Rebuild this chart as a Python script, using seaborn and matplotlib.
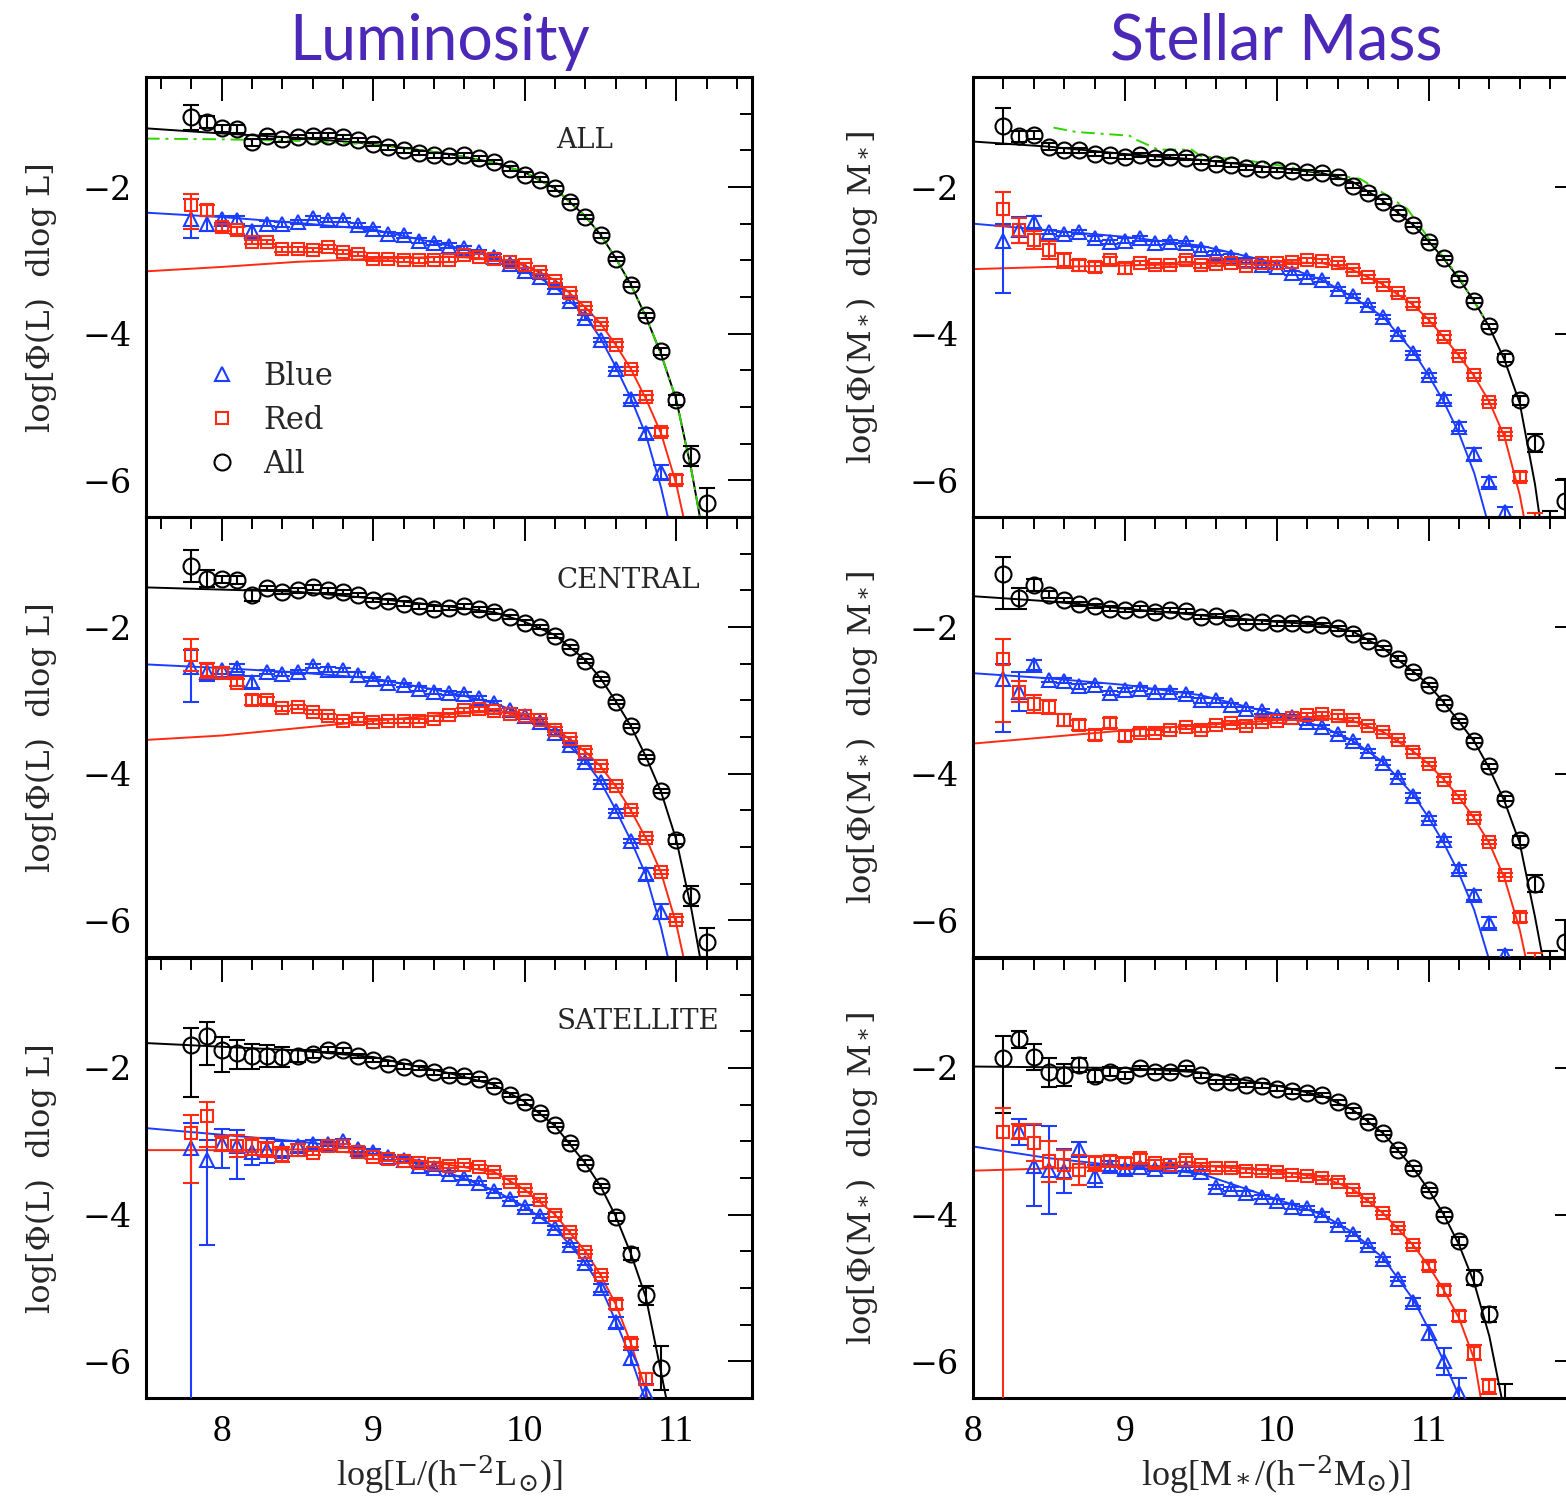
import numpy as np
import matplotlib
matplotlib.use("Agg")
import matplotlib.pyplot as plt
from matplotlib.lines import Line2D
from matplotlib.ticker import MultipleLocator
import seaborn as sns

# ---------------- data ----------------
NAN = np.nan
LX = [7.8, 7.9, 8.0, 8.1, 8.2, 8.3, 8.4, 8.5, 8.6, 8.7, 8.8, 8.9, 9.0, 9.1, 9.2, 9.3, 9.4, 9.5,
      9.6, 9.7, 9.8, 9.9, 10.0, 10.1, 10.2, 10.3, 10.4, 10.5, 10.6, 10.7, 10.8, 10.9, 11.0, 11.1, 11.2]
MX = [8.2, 8.3, 8.4, 8.5, 8.6, 8.7, 8.8, 8.9, 9.0, 9.1, 9.2, 9.3, 9.4, 9.5, 9.6, 9.7, 9.8, 9.9,
      10.0, 10.1, 10.2, 10.3, 10.4, 10.5, 10.6, 10.7, 10.8, 10.9, 11.0, 11.1, 11.2, 11.3, 11.4,
      11.5, 11.6, 11.7, 11.8, 11.9]

# Luminosity, ALL
L_all_black = [-1.05, -1.11, -1.20, -1.21, -1.39, -1.31, -1.35, -1.32, -1.30, -1.30, -1.32, -1.36,
               -1.41, -1.46, -1.50, -1.54, -1.57, -1.58, -1.57, -1.61, -1.66, -1.75, -1.83, -1.90,
               -2.02, -2.20, -2.41, -2.66, -2.98, -3.33, -3.75, -4.24, -4.90, -5.67, -6.31]
L_all_blue = [-2.43, -2.50, -2.44, -2.45, -2.60, -2.50, -2.51, -2.48, -2.42, -2.45, -2.45, -2.52,
              -2.57, -2.64, -2.66, -2.73, -2.76, -2.80, -2.83, -2.89, -2.95, -3.05, -3.14, -3.23,
              -3.36, -3.55, -3.78, -4.09, -4.48, -4.89, -5.36, -5.89, NAN, NAN, NAN]
L_all_red = [-2.25, -2.32, -2.55, -2.59, -2.75, -2.75, -2.85, -2.85, -2.86, -2.82, -2.89, -2.91,
             -2.98, -2.98, -2.99, -3.00, -2.99, -2.99, -2.93, -2.95, -2.98, -3.02, -3.07, -3.16,
             -3.28, -3.45, -3.65, -3.87, -4.15, -4.48, -4.87, -5.34, -5.99, NAN, NAN]
# Luminosity, CENTRAL
L_cen_black = [-1.17, -1.34, -1.35, -1.36, -1.57, -1.47, -1.52, -1.50, -1.46, -1.50, -1.52, -1.56,
               -1.63, -1.65, -1.68, -1.72, -1.75, -1.74, -1.72, -1.76, -1.79, -1.86, -1.94, -2.00,
               -2.12, -2.27, -2.46, -2.71, -3.02, -3.35, -3.77, -4.24, -4.90, -5.67, -6.30]
L_cen_blue = [-2.54, -2.61, -2.59, -2.56, -2.75, -2.61, -2.64, -2.61, -2.53, -2.58, -2.59, -2.65,
              -2.71, -2.76, -2.79, -2.84, -2.88, -2.90, -2.91, -2.97, -3.04, -3.13, -3.22, -3.29,
              -3.44, -3.61, -3.84, -4.11, -4.51, -4.92, -5.37, -5.88, NAN, NAN, NAN]
L_cen_red = [-2.38, -2.59, -2.63, -2.76, -3.00, -3.00, -3.11, -3.09, -3.16, -3.22, -3.28, -3.26,
             -3.29, -3.28, -3.28, -3.28, -3.25, -3.20, -3.13, -3.12, -3.15, -3.19, -3.21, -3.27,
             -3.40, -3.53, -3.70, -3.90, -4.17, -4.50, -4.88, -5.34, -5.99, NAN, NAN]
# Luminosity, SATELLITE
L_sat_black = [-1.69, -1.57, -1.75, -1.79, -1.84, -1.84, -1.85, -1.84, -1.81, -1.75, -1.76, -1.84,
               -1.89, -1.94, -1.98, -2.00, -2.06, -2.10, -2.11, -2.15, -2.24, -2.37, -2.47, -2.61,
               -2.78, -3.02, -3.29, -3.61, -4.03, -4.54, -5.10, -6.09, NAN, NAN, NAN]
L_sat_blue = [-3.09, -3.25, -3.03, -3.07, -3.14, -3.12, -3.11, -3.07, -3.04, -3.04, -3.00, -3.11,
              -3.14, -3.22, -3.25, -3.33, -3.37, -3.44, -3.50, -3.57, -3.68, -3.79, -3.90, -4.02,
              -4.18, -4.41, -4.66, -5.00, -5.47, -5.95, -6.43, NAN, NAN, NAN, NAN]
L_sat_red = [-2.89, -2.66, -3.03, -3.07, -3.07, -3.11, -3.18, -3.12, -3.16, -3.07, -3.06, -3.14,
             -3.21, -3.24, -3.27, -3.30, -3.31, -3.33, -3.32, -3.35, -3.42, -3.55, -3.66, -3.80,
             -4.00, -4.24, -4.51, -4.82, -5.22, -5.75, -6.24, NAN, NAN, NAN, NAN]

# Stellar mass, ALL
M_all_black = [-1.17, -1.31, -1.29, -1.45, -1.50, -1.50, -1.55, -1.57, -1.59, -1.56, -1.60, -1.59,
               -1.60, -1.66, -1.68, -1.70, -1.74, -1.76, -1.77, -1.78, -1.80, -1.81, -1.86, -1.98,
               -2.08, -2.20, -2.35, -2.52, -2.75, -2.97, -3.25, -3.55, -3.90, -4.33, -4.91, -5.49,
               -6.62, -6.28]
M_all_blue = [-2.73, -2.59, -2.48, -2.61, -2.64, -2.61, -2.70, -2.75, -2.73, -2.70, -2.76, -2.75,
              -2.77, -2.85, -2.90, -2.95, -3.00, -3.07, -3.09, -3.17, -3.23, -3.27, -3.39, -3.49,
              -3.61, -3.77, -4.00, -4.26, -4.57, -4.89, -5.27, -5.64, -6.02, -6.43, NAN, NAN, NAN, NAN]
M_all_red = [-2.30, -2.59, -2.72, -2.86, -3.00, -3.07, -3.09, -3.00, -3.11, -3.04, -3.07, -3.06,
             -2.99, -3.07, -3.05, -3.04, -3.08, -3.04, -3.04, -3.02, -3.00, -3.01, -3.04, -3.13,
             -3.23, -3.33, -3.45, -3.60, -3.82, -4.05, -4.30, -4.57, -4.93, -5.37, -5.95, -6.60,
             NAN, NAN]
# Stellar mass, CENTRAL
M_cen_black = [-1.28, -1.61, -1.43, -1.56, -1.63, -1.69, -1.71, -1.75, -1.77, -1.75, -1.79, -1.77,
               -1.78, -1.86, -1.85, -1.88, -1.93, -1.93, -1.95, -1.95, -1.96, -1.97, -2.02, -2.09,
               -2.19, -2.29, -2.43, -2.61, -2.79, -3.03, -3.28, -3.55, -3.90, -4.34, -4.91, -5.50,
               -6.62, -6.29]
M_cen_blue = [-2.71, -2.88, -2.52, -2.72, -2.73, -2.81, -2.79, -2.90, -2.86, -2.84, -2.88, -2.88,
              -2.92, -3.00, -3.00, -3.06, -3.12, -3.15, -3.21, -3.23, -3.30, -3.36, -3.46, -3.56,
              -3.69, -3.85, -4.04, -4.30, -4.61, -4.90, -5.30, -5.65, -6.03, -6.47, NAN, NAN, NAN, NAN]
M_cen_red = [-2.43, -2.88, -3.05, -3.09, -3.27, -3.34, -3.47, -3.31, -3.49, -3.44, -3.44, -3.40,
             -3.36, -3.40, -3.34, -3.31, -3.35, -3.29, -3.28, -3.24, -3.20, -3.19, -3.22, -3.27,
             -3.35, -3.43, -3.54, -3.70, -3.87, -4.08, -4.32, -4.60, -4.93, -5.38, -5.96, -6.60,
             NAN, NAN]
# Stellar mass, SATELLITE
M_sat_black = [-1.87, -1.61, -1.85, -2.06, -2.10, -1.96, -2.11, -2.05, -2.10, -2.00, -2.05, -2.05,
               -2.00, -2.10, -2.19, -2.19, -2.23, -2.24, -2.28, -2.32, -2.34, -2.37, -2.47, -2.58,
               -2.73, -2.89, -3.12, -3.37, -3.66, -4.00, -4.36, -4.86, -5.36, -6.65, NAN, NAN, NAN, NAN]
M_sat_blue = [NAN, -2.87, -3.33, -3.39, -3.41, -3.11, -3.47, -3.34, -3.38, -3.35, -3.38, -3.34,
              -3.38, -3.42, -3.62, -3.65, -3.71, -3.76, -3.82, -3.89, -3.91, -4.00, -4.14, -4.26,
              -4.42, -4.61, -4.88, -5.19, -5.61, -6.00, -6.43, NAN, NAN, NAN, NAN, NAN, NAN, NAN]
M_sat_red = [-2.87, -2.87, -3.02, -3.27, -3.32, -3.39, -3.30, -3.27, -3.30, -3.23, -3.30, -3.32,
             -3.25, -3.32, -3.37, -3.37, -3.40, -3.41, -3.42, -3.46, -3.47, -3.50, -3.55, -3.67,
             -3.80, -3.98, -4.18, -4.42, -4.70, -5.03, -5.38, -5.88, -6.34, NAN, NAN, NAN, NAN, NAN]

# error bars: default and per-point overrides (value or (lower, upper))
ERR_DEFAULT = 0.03
L_all_black_err = {7.8: 0.17, 7.9: 0.08, 8.0: 0.05, 8.1: 0.05, 8.2: 0.05, 10.9: 0.05, 11.0: 0.07, 11.1: 0.14, 11.2: 0.2}
L_all_blue_err = {7.8: 0.27, 7.9: 0.1, 8.0: 0.05, 8.1: 0.05, 8.2: 0.07, 10.7: 0.05, 10.8: 0.08, 10.9: 0.1}
L_all_red_err = {7.8: (0.32, 0.15), 7.9: 0.08, 8.0: 0.05, 8.1: 0.05, 10.9: 0.05, 11.0: 0.06}
L_cen_black_err = {7.8: 0.22, 7.9: 0.12, 8.0: 0.05, 8.1: 0.05, 8.2: 0.07, 11.0: 0.06, 11.1: 0.14, 11.2: 0.2}
L_cen_blue_err = {7.8: (0.48, 0.22), 7.9: 0.12, 8.0: 0.05, 8.1: 0.05, 8.2: 0.08, 10.8: 0.08, 10.9: 0.1}
L_cen_red_err = {7.8: 0.22, 7.9: 0.1, 8.0: 0.07, 8.1: 0.05, 8.2: 0.07, 8.3: 0.05}
L_sat_black_err = {7.8: (0.70, 0.24), 7.9: (0.39, 0.2), 8.0: (0.3, 0.17), 8.1: (0.22, 0.17), 8.2: 0.17,
                   8.3: 0.15, 8.4: 0.13, 8.5: 0.08, 8.6: 0.05, 10.6: 0.05, 10.7: 0.08, 10.8: 0.13, 10.9: 0.3}
L_sat_blue_err = {7.8: (4.0, 0.34), 7.9: (1.16, 0.27), 8.0: (0.33, 0.2), 8.1: (0.45, 0.22), 8.2: 0.18,
                  8.3: 0.17, 8.4: 0.12, 8.5: 0.08, 8.6: 0.06, 10.5: 0.05, 10.6: 0.08, 10.7: 0.1, 10.8: 0.12}
L_sat_red_err = {7.8: (0.68, 0.25), 7.9: (0.42, 0.2), 8.0: 0.1, 8.1: 0.15, 8.2: 0.12, 8.3: 0.1, 8.4: 0.1,
                 8.5: 0.08, 10.6: 0.06, 10.7: 0.06, 10.8: 0.08}
M_all_black_err = {8.2: 0.25, 8.3: 0.08, 8.4: 0.06, 8.5: 0.05, 11.5: 0.05, 11.6: 0.06, 11.7: 0.12, 11.8: 0.2, 11.9: 0.3}
M_all_blue_err = {8.2: (0.72, 0.23), 8.3: 0.18, 8.4: 0.08, 11.1: 0.05, 11.2: 0.06, 11.3: 0.08, 11.4: 0.07, 11.5: 0.07}
M_all_red_err = {8.2: 0.23, 8.3: 0.17, 8.4: 0.12, 8.5: 0.12, 8.6: 0.1, 8.7: 0.07, 8.8: 0.07, 8.9: 0.05,
                 9.0: 0.07, 11.6: 0.06, 11.7: 0.15}
M_cen_black_err = {8.2: (0.47, 0.23), 8.3: 0.14, 8.4: 0.08, 8.5: 0.05, 11.6: 0.06, 11.7: 0.12, 11.8: 0.2, 11.9: 0.3}
M_cen_blue_err = {8.2: (0.72, 0.2), 8.3: 0.26, 8.4: 0.07, 11.2: 0.06, 11.3: 0.07, 11.4: 0.07, 11.5: 0.07}
M_cen_red_err = {8.2: (0.87, 0.26), 8.3: 0.14, 8.4: 0.12, 8.5: 0.1, 8.6: 0.08, 8.7: 0.07, 8.8: 0.07,
                 8.9: 0.07, 9.0: 0.07, 9.1: 0.05, 11.6: 0.06, 11.7: 0.15}
M_sat_black_err = {8.2: (0.75, 0.3), 8.3: 0.12, 8.4: 0.18, 8.5: 0.2, 8.6: 0.15, 8.7: 0.1, 8.8: 0.08,
                   8.9: 0.06, 9.0: 0.05, 11.2: 0.06, 11.3: 0.1, 11.4: 0.1, 11.5: 0.34}
M_sat_blue_err = {8.3: 0.18, 8.4: 0.55, 8.5: 0.6, 8.6: 0.3, 8.7: 0.1, 8.8: 0.15, 8.9: 0.07, 9.0: 0.06,
                  10.9: 0.06, 11.0: 0.1, 11.1: 0.18, 11.2: 0.2}
M_sat_red_err = {8.2: (4.0, 0.32), 8.3: 0.1, 8.4: 0.25, 8.5: 0.28, 8.6: 0.2, 8.7: 0.2, 8.8: 0.1, 8.9: 0.07,
                 9.0: 0.07, 9.1: 0.06, 9.2: 0.05, 11.0: 0.05, 11.1: 0.06, 11.2: 0.07, 11.3: 0.1, 11.4: 0.1}

# model curves
LFX = [7.5, 8.0, 8.5, 9.0, 9.5, 9.8, 10.0, 10.2, 10.4, 10.5, 10.6, 10.7, 10.8, 10.9, 11.0, 11.1, 11.2]
MFX = [8.0, 8.5, 9.0, 9.5, 10.0, 10.3, 10.5, 10.7, 10.9, 11.0, 11.1, 11.2, 11.3, 11.4, 11.5, 11.6, 11.7, 11.8]
L_all_fit_black = [-1.20, -1.27, -1.33, -1.41, -1.55, -1.67, -1.80, -2.02, -2.40, -2.65, -2.97, -3.33, -3.77, -4.28, -4.90, -5.86, -7.0]
L_all_fit_green = [-1.34, -1.35, -1.37, -1.42, -1.55, -1.67, -1.80, -2.02, -2.40, -2.65, -2.97, -3.33, -3.77, -4.28, -4.90, -5.86, -7.0]
L_all_fit_blue = [-2.35, -2.41, -2.49, -2.58, -2.80, -2.95, -3.13, -3.36, -3.76, -4.06, -4.45, -4.88, -5.38, -6.10, -7.0, -8.0, -9.0]
L_all_fit_red = [-3.15, -3.09, -3.02, -2.98, -2.95, -2.98, -3.07, -3.27, -3.64, -3.86, -4.15, -4.48, -4.89, -5.36, -6.05, -7.0, -8.0]
L_cen_fit_black = [-1.46, -1.49, -1.52, -1.61, -1.72, -1.80, -1.93, -2.11, -2.45, -2.70, -3.01, -3.35, -3.77, -4.25, -4.90, -5.85, -7.0]
L_cen_fit_blue = [-2.51, -2.56, -2.62, -2.70, -2.89, -3.04, -3.20, -3.44, -3.83, -4.11, -4.49, -4.91, -5.38, -6.10, -7.0, -8.0, -9.0]
L_cen_fit_red = [-3.54, -3.48, -3.38, -3.28, -3.19, -3.15, -3.21, -3.38, -3.70, -3.90, -4.17, -4.50, -4.88, -5.35, -6.05, -7.0, -8.0]
L_sat_fit_black = [-1.66, -1.71, -1.76, -1.85, -2.07, -2.23, -2.46, -2.79, -3.30, -3.61, -4.02, -4.53, -5.13, -6.15, -7.2, -8.2, -9.2]
L_sat_fit_blue = [-2.82, -2.91, -3.00, -3.12, -3.43, -3.67, -3.89, -4.18, -4.66, -4.98, -5.45, -5.95, -6.55, -7.3, -8.0, -9.0, -10.0]
L_sat_fit_red = [-3.12, -3.12, -3.11, -3.17, -3.32, -3.42, -3.66, -4.00, -4.50, -4.82, -5.22, -5.75, -6.40, -7.3, -8.0, -9.0, -10.0]
M_all_fit_black = [-1.38, -1.45, -1.55, -1.63, -1.74, -1.81, -1.93, -2.19, -2.52, -2.74, -2.98, -3.25, -3.56, -3.91, -4.36, -4.95, -6.05, -7.5]
M_all_fit_blue = [-2.50, -2.59, -2.68, -2.80, -3.04, -3.27, -3.50, -3.77, -4.25, -4.57, -4.93, -5.36, -5.90, -6.65, -7.5, -8.5, -9.5, -10.5]
M_all_fit_red = [-3.12, -3.09, -3.07, -3.05, -3.02, -3.04, -3.13, -3.33, -3.61, -3.81, -4.05, -4.30, -4.58, -4.93, -5.41, -6.20, -7.3, -8.5]
M_green_x = [8.53, 8.68, 9.03, 9.08, 9.22, 9.44, 9.5, 9.81, 10.0, 10.55, 10.7, 10.86, 11.0, 11.2, 11.37]
M_green_y = [-1.19, -1.25, -1.30, -1.36, -1.49, -1.49, -1.58, -1.64, -1.70, -1.89, -2.08, -2.30, -2.70, -3.23, -3.80]
M_cen_fit_black = [-1.58, -1.65, -1.75, -1.84, -1.93, -1.97, -2.06, -2.29, -2.61, -2.79, -3.03, -3.29, -3.56, -3.93, -4.38, -4.95, -5.95, -7.05]
M_cen_fit_blue = [-2.63, -2.70, -2.79, -2.93, -3.19, -3.36, -3.55, -3.84, -4.29, -4.60, -4.95, -5.36, -5.86, -6.55, -7.3, -8.3, -9.3, -10.3]
M_cen_fit_red = [-3.59, -3.50, -3.41, -3.34, -3.27, -3.24, -3.28, -3.43, -3.70, -3.87, -4.08, -4.32, -4.61, -4.95, -5.43, -6.13, -7.1, -8.3]
M_sat_fit_black = [-1.98, -1.99, -2.00, -2.06, -2.24, -2.38, -2.57, -2.89, -3.37, -3.66, -4.00, -4.41, -4.93, -5.66, -6.7, -7.8, -8.8, -9.8]
M_sat_fit_blue = [-3.07, -3.23, -3.34, -3.44, -3.79, -4.00, -4.24, -4.59, -5.16, -5.56, -6.00, -6.47, -7.1, -8.0, -9.0, -10.0, -11.0, -12.0]
M_sat_fit_red = [-3.40, -3.37, -3.34, -3.33, -3.41, -3.49, -3.65, -3.98, -4.42, -4.70, -5.03, -5.41, -5.97, -7.2, -8.2, -9.2, -10.2, -11.2]

PANEL_LABELS = ["ALL", "CENTRAL", "SATELLITE"]
COL_TITLES = ["Luminosity", "Stellar Mass"]
LEGEND_LABELS = ["Blue", "Red", "All"]

# ---------------- style ----------------
BLUE = "#1b3dff"
RED = "#ff2a12"
BLACK = "#000000"
GREEN = "#2fd400"
PURPLE = "#4b28b8"

sns.set_theme(style="white")
plt.rcParams["font.family"] = ["DejaVu Serif", "DejaVu Sans"]
plt.rcParams["mathtext.fontset"] = "dejavuserif"
plt.rcParams["axes.unicode_minus"] = True

W, H = 1566, 1502
fig = plt.figure(figsize=(W / 100, H / 100), dpi=100)

col_left = [146 / W, 973 / W]
ax_w = 606 / W
ax_h = 440 / H
row_bottom = [1 - 517 / H, 1 - 957 / H, 1 - 1398 / H]


def errs(xs, vals, overrides):
    lo, hi = [], []
    for x, v in zip(xs, vals):
        e = overrides.get(round(x, 1), ERR_DEFAULT)
        if isinstance(e, tuple):
            lo.append(e[0]); hi.append(e[1])
        else:
            lo.append(e); hi.append(e)
    return np.array(lo), np.array(hi)


MARK = {"blue": ("^", BLUE, 10.5), "red": ("s", RED, 8.5), "black": ("o", BLACK, 11.5)}


def draw_points(ax, xs, vals, over, kind, z=3):
    m, c, ms = MARK[kind]
    xs = np.array(xs); vals = np.array(vals, dtype=float)
    ok = ~np.isnan(vals)
    lo, hi = errs(xs, vals, over)
    ax.errorbar(xs[ok], vals[ok], yerr=[lo[ok], hi[ok]], fmt=m, mfc="none", mec=c, ecolor=c,
                ms=ms, mew=1.5, elinewidth=1.5, capsize=5.5, capthick=1.5, ls="none", zorder=z)


def draw_fit(ax, xs, ys, color, **kw):
    sns.lineplot(x=xs, y=ys, ax=ax, color=color, linewidth=1.4, estimator=None, sort=False,
                 zorder=2, **kw)


panels = [
    [  # luminosity
        (L_all_blue, L_all_blue_err, L_all_red, L_all_red_err, L_all_black, L_all_black_err,
         L_all_fit_blue, L_all_fit_red, L_all_fit_black),
        (L_cen_blue, L_cen_blue_err, L_cen_red, L_cen_red_err, L_cen_black, L_cen_black_err,
         L_cen_fit_blue, L_cen_fit_red, L_cen_fit_black),
        (L_sat_blue, L_sat_blue_err, L_sat_red, L_sat_red_err, L_sat_black, L_sat_black_err,
         L_sat_fit_blue, L_sat_fit_red, L_sat_fit_black),
    ],
    [  # stellar mass
        (M_all_blue, M_all_blue_err, M_all_red, M_all_red_err, M_all_black, M_all_black_err,
         M_all_fit_blue, M_all_fit_red, M_all_fit_black),
        (M_cen_blue, M_cen_blue_err, M_cen_red, M_cen_red_err, M_cen_black, M_cen_black_err,
         M_cen_fit_blue, M_cen_fit_red, M_cen_fit_black),
        (M_sat_blue, M_sat_blue_err, M_sat_red, M_sat_red_err, M_sat_black, M_sat_black_err,
         M_sat_fit_blue, M_sat_fit_red, M_sat_fit_black),
    ],
]

ylab = ["log[\u03a6(L)  dlog L]", "log[\u03a6(M$_*$)  dlog M$_*$]"]
xlab = ["log[L/(h$^{-2}$L$_{\\odot}$)]", "log[M$_*$/(h$^{-2}$M$_{\\odot}$)]"]
xlims = [(7.5, 11.5), (8.0, 11.99)]
ylab_x = [-0.147, -0.153]

for c in range(2):
    xs = LX if c == 0 else MX
    fx = LFX if c == 0 else MFX
    for r in range(3):
        ax = fig.add_axes([col_left[c], row_bottom[r], ax_w, ax_h])
        (bv, be, rv, re_, kv, ke, fb, fr, fk) = panels[c][r]
        draw_fit(ax, fx, fb, BLUE)
        draw_fit(ax, fx, fr, RED)
        draw_fit(ax, fx, fk, BLACK)
        if r == 0:
            if c == 0:
                draw_fit(ax, fx, L_all_fit_green, GREEN, linestyle=(0, (7, 3, 1.5, 3)))
            else:
                draw_fit(ax, M_green_x, M_green_y, GREEN, linestyle=(0, (7, 3, 1.5, 3)))
        draw_points(ax, xs, kv, ke, "black", z=3)
        draw_points(ax, xs, bv, be, "blue", z=4)
        draw_points(ax, xs, rv, re_, "red", z=5)

        ax.set_xlim(*xlims[c])
        ax.set_ylim(-6.5, -0.5)
        ax.xaxis.set_major_locator(MultipleLocator(1))
        ax.xaxis.set_minor_locator(MultipleLocator(0.2))
        ax.yaxis.set_major_locator(MultipleLocator(2))
        ax.yaxis.set_minor_locator(MultipleLocator(0.5))
        ax.tick_params(which="both", direction="in", top=True, right=True, colors="black")
        ax.tick_params(which="major", length=17, width=1.4)
        ax.tick_params(which="minor", length=8.5, width=1.4)
        ax.tick_params(axis="y", which="major", labelsize=24, pad=10)
        ax.tick_params(axis="x", which="major", labelsize=27, pad=12)
        for s in ax.spines.values():
            s.set_linewidth(2.2)
            s.set_color("black")
        ax.set_ylabel(ylab[c], fontsize=23, labelpad=0)
        ax.yaxis.set_label_coords(ylab_x[c], 0.5)
        if r == 2:
            ax.set_xlabel(xlab[c], fontsize=26, labelpad=3)
            for t in ax.get_xticklabels():
                t.set_fontfamily(["Liberation Serif", "DejaVu Serif"])
            ax.xaxis.label.set_fontfamily(["Liberation Serif", "DejaVu Serif"])
        else:
            ax.set_xlabel("")
            ax.tick_params(axis="x", labelbottom=False)
        ax.grid(False)
        if c == 0:
            ax.text(0.677, 0.855, PANEL_LABELS[r], transform=ax.transAxes, fontsize=20,
                    ha="left", va="center")
        if c == 0 and r == 0:
            handles = [
                Line2D([], [], marker="^", ls="none", mfc="none", mec=BLUE, ms=10.5, mew=1.5),
                Line2D([], [], marker="s", ls="none", mfc="none", mec=RED, ms=8.5, mew=1.5),
                Line2D([], [], marker="o", ls="none", mfc="none", mec=BLACK, ms=11.5, mew=1.5),
            ]
            ax.legend(handles, LEGEND_LABELS, loc="center left", bbox_to_anchor=(0.085, 0.22),
                      frameon=False, fontsize=22, handlelength=0.8, handletextpad=0.95,
                      labelspacing=0.42, borderaxespad=0)

for c in range(2):
    cx = col_left[c] + ax_w / 2
    fig.text(cx - (0.006 if c == 0 else 0.0), 1 - 42 / H, COL_TITLES[c], ha="center", va="center",
             fontsize=45, color=PURPLE, family=["Lato", "DejaVu Sans"])

fig.savefig("out.png", dpi=100)
